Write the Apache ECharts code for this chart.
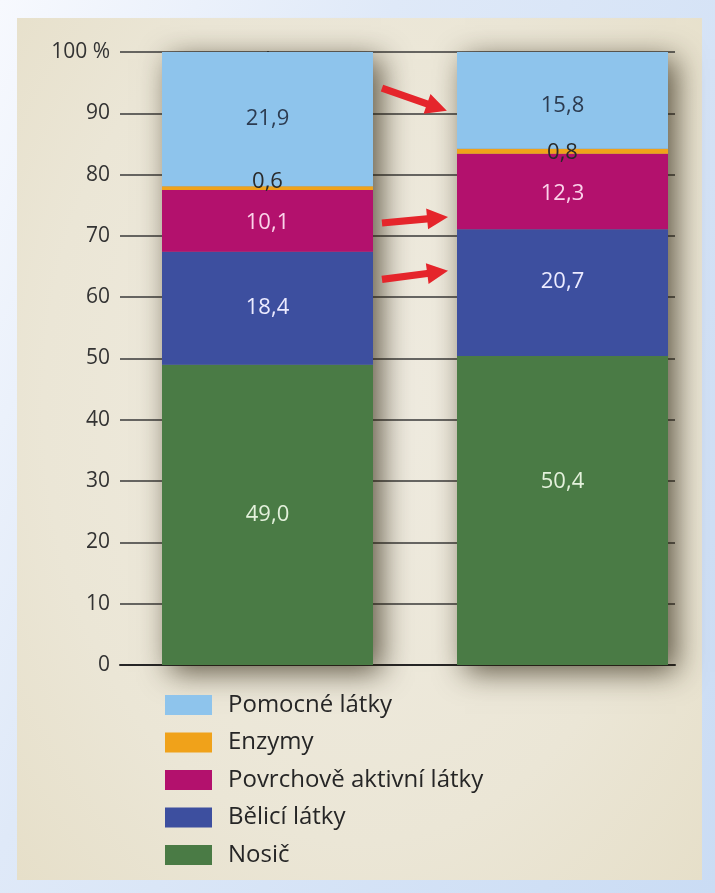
<!DOCTYPE html>
<html><head><meta charset="utf-8">
<script src="https://cdn.jsdelivr.net/npm/echarts@6/dist/echarts.min.js"></script>
<style>
html,body{margin:0;padding:0;width:715px;height:893px;overflow:hidden;}
body{background:linear-gradient(115deg,#f7f9fe 0%,#dfe9f8 35%,#cadcf4 100%);}
#panel{position:absolute;left:17px;top:18px;width:685px;height:862px;
 background:radial-gradient(ellipse at 50% 45%,#f0ece1 0%,#ebe6d6 65%,#e6dfc9 100%);}
#chart{position:absolute;left:0;top:0;width:715px;height:893px;}
</style></head><body><div id="panel"></div><div id="chart"></div>
<script>
// ---- data ----
const categories = ['1', '2'];
const nosic   = [49.0, 50.4];
const belici  = [18.4, 20.7];
const povrch  = [10.1, 12.3];
const enzymy  = [0.6, 0.8];
const pomocne = [21.9, 15.8];
const yTicks  = [0, 10, 20, 30, 40, 50, 60, 70, 80, 90, 100];
const seriesNames = ['Nosič', 'Bělicí látky', 'Povrchově aktivní látky', 'Enzymy', 'Pomocné látky'];
const legendOrder = ['Pomocné látky', 'Enzymy', 'Povrchově aktivní látky', 'Bělicí látky', 'Nosič'];
// arrow annotations: [start [xIdx, value], end [xIdx, value]]
const arrows = [
  [[0.388, 94.1], [0.608, 90.4]],
  [[0.388, 72.1], [0.612, 73.1]],
  [[0.388, 62.9], [0.612, 64.3]]
];

// ---- styles ----
const FONT = '"Open Sans", "Noto Sans", sans-serif';
const colors = ['#4a7b45', '#3d4f9f', '#b3116d', '#f0a21a', '#8ec4ec'];
const labelColors = ['#e4f1dc', '#ecebff', '#fbd3ea', '#2a2a2a', '#2c3b50'];
const labelOffsets = [
  [[0, 0], [0, -29]],
  [[0, 0], [0, -11]],
  [[0, 2], [0, 2]],
  [[0, -6], [0, 1]],
  [[0, 0], [0, 5]]
];
const BAR_W = 211;

const valueSets = [nosic, belici, povrch, enzymy, pomocne];
const totals = categories.map((_, i) => valueSets.reduce((s, a) => s + a[i], 0));

const series = [{
  name: '_shadow', type: 'bar', xAxisIndex: 0, yAxisIndex: 0, barWidth: BAR_W, barGap: '-100%', z: 1, silent: true,
  data: totals,
  itemStyle: { color: '#8a8a8a', shadowBlur: 28, shadowColor: 'rgba(40,30,10,0.72)', shadowOffsetX: 8, shadowOffsetY: 7 },
  label: { show: false }
}];
valueSets.forEach((vals, s) => {
  series.push({
    name: seriesNames[s], type: 'bar', xAxisIndex: 0, yAxisIndex: 0, stack: 'total', barWidth: BAR_W, barGap: '-100%', z: 2,
    data: vals.map((v, i) => ({ value: v, label: { offset: labelOffsets[s][i] } })),
    itemStyle: { color: colors[s] },
    label: {
      show: true, position: 'inside', color: labelColors[s], fontSize: 22, fontFamily: FONT, fontWeight: 500,
      textBorderWidth: 0,
      formatter: p => p.value.toFixed(1).replace('.', ',')
    },
    emphasis: { disabled: true }
  });
});

const yMin = yTicks[0], yMax = yTicks[yTicks.length - 1], yInt = yTicks[1] - yTicks[0];
const chart = echarts.init(document.getElementById('chart'), null, { renderer: 'canvas' });
chart.setOption({
  backgroundColor: 'transparent',
  animation: false,
  grid: [
    { left: 120, right: 5, top: 52, bottom: 228, containLabel: false },   // bars
    { left: 120, right: 40, top: 52, bottom: 228, containLabel: false }   // axes & gridlines
  ],
  xAxis: [
    { type: 'category', gridIndex: 0, data: categories, show: false },
    { type: 'value', gridIndex: 1, min: -0.5, max: 1.3814,
      axisLine: { show: true, lineStyle: { color: '#262626', width: 2 } },
      axisTick: { show: false }, axisLabel: { show: false }, splitLine: { show: false } }
  ],
  yAxis: [
    { type: 'value', gridIndex: 0, min: yMin, max: yMax, interval: yInt, show: false, splitLine: { show: false } },
    { type: 'value', gridIndex: 1, min: yMin, max: yMax, interval: yInt,
      axisLine: { show: true, lineStyle: { color: '#262626', width: 2 } },
      axisTick: { show: false },
      axisLabel: { color: '#333333', fontSize: 21, fontFamily: FONT, fontWeight: 500, margin: 10,
        formatter: v => (v === 100 ? '100 %' : String(v)) },
      splitLine: { show: true, lineStyle: { color: '#3a3a3a', width: 1.5 } } }
  ],
  legend: {
    data: legendOrder, orient: 'vertical', left: 160, top: 688,
    itemWidth: 47, itemHeight: 20, itemGap: 13.5, icon: 'rect',
    textStyle: { color: '#262626', fontSize: 24, fontFamily: FONT, fontWeight: 500, padding: [0, 0, 0, 11], lineHeight: 24 },
    selectedMode: false
  },
  series: series
});

// arrows (positions converted from data space of the axes grid)
const graphics = arrows.map(a => {
  const p0 = chart.convertToPixel({ gridIndex: 1 }, a[0]);
  const p1 = chart.convertToPixel({ gridIndex: 1 }, a[1]);
  const dx = p1[0] - p0[0], dy = p1[1] - p0[1];
  const L = Math.hypot(dx, dy);
  const ux = dx / L, uy = dy / L, nx = -uy, ny = ux;
  const hl = 21, hh = 10.5, sh = 3.6;
  const bx = p1[0] - ux * hl, by = p1[1] - uy * hl;
  const pts = [
    [p0[0] + nx * sh, p0[1] + ny * sh],
    [bx + nx * sh, by + ny * sh],
    [bx + nx * hh, by + ny * hh],
    [p1[0], p1[1]],
    [bx - nx * hh, by - ny * hh],
    [bx - nx * sh, by - ny * sh],
    [p0[0] - nx * sh, p0[1] - ny * sh]
  ];
  return { type: 'polygon', z: 100, shape: { points: pts }, style: { fill: '#e5252b' } };
});
chart.setOption({ graphic: graphics });
</script>
</body></html>
